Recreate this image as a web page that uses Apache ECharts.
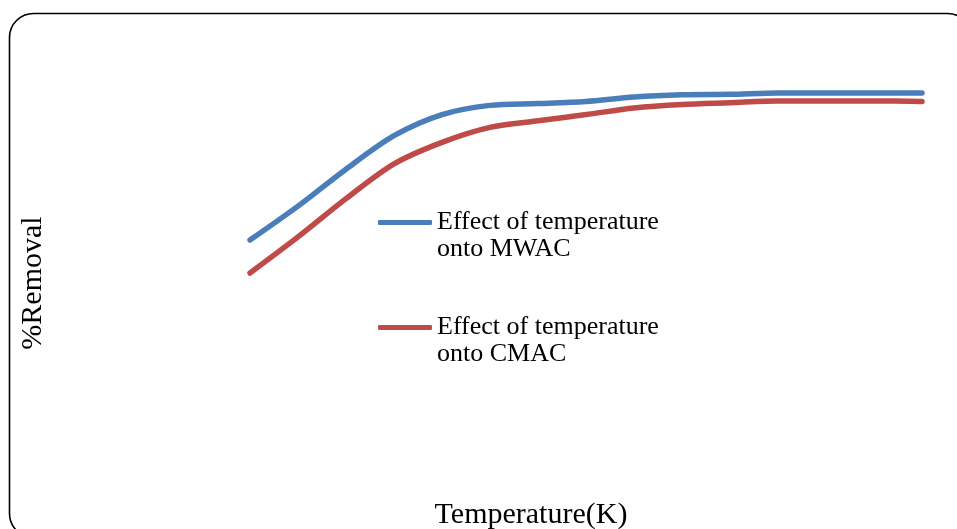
<!DOCTYPE html>
<html>
<head>
<meta charset="utf-8">
<script src="https://cdn.jsdelivr.net/npm/echarts@6/dist/echarts.min.js"></script>
<style>
  html, body { margin: 0; padding: 0; background: #fff; }
  #chart { width: 957px; height: 529px; }
</style>
</head>
<body>
<div id="chart"></div>
<script>
// Temperature points (K) and % removal for each adsorbent
const temperatures = [293, 295.5, 298, 300.5, 303, 305.5, 308, 310.5, 313, 315.5, 318, 320.5, 323, 325.5, 328];
const removalMWAC = [57.5, 65.2, 73.6, 81.2, 86.0, 88.1, 88.5, 89.0, 90.0, 90.5, 90.6, 90.9, 90.9, 90.9, 90.9];
const removalCMAC = [50.0, 58.2, 66.9, 74.8, 79.7, 83.1, 84.6, 86.0, 87.5, 88.3, 88.7, 89.1, 89.1, 89.1, 89.0];
const seriesNames = ['Effect of temperature\nonto MWAC', 'Effect of temperature\nonto CMAC'];

const serif = '"Liberation Serif", "Times New Roman", serif';
const chart = echarts.init(document.getElementById('chart'));

const pairs = (xs, ys) => xs.map((x, i) => [x, ys[i]]);

chart.setOption({
  animation: false,
  backgroundColor: '#fff',
  grid: { left: 250, top: 53, width: 672, height: 440 },
  xAxis: {
    type: 'value', min: 293, max: 328,
    show: false
  },
  yAxis: {
    type: 'value', min: 0, max: 100,
    show: false
  },
  legend: {
    orient: 'vertical',
    left: 378, top: 182,
    padding: 0,
    itemGap: 24,
    itemWidth: 54, itemHeight: 5,
    icon: 'roundRect',
    // blank first line keeps the icon level with the first text line
    formatter: name => ' \n' + name,
    textStyle: { fontFamily: serif, fontSize: 26, color: '#000', lineHeight: 27 },
    data: seriesNames
  },
  graphic: [
    {
      type: 'rect', silent: true,
      shape: { x: 9.5, y: 13.5, width: 962, height: 524, r: 24 },
      style: { fill: 'none', stroke: '#000', lineWidth: 1.6 }
    },
    {
      type: 'text', silent: true,
      x: 33, y: 283, rotation: Math.PI / 2,
      style: { text: '%Removal', font: '30px ' + serif, fill: '#000', align: 'center', verticalAlign: 'middle' }
    },
    {
      type: 'text', silent: true,
      x: 531, y: 515,
      style: { text: 'Temperature(K)', font: '30px ' + serif, fill: '#000', align: 'center', verticalAlign: 'middle' }
    }
  ],
  series: [
    {
      name: seriesNames[0], type: 'line', smooth: 0.3,
      showSymbol: false, symbol: 'none',
      data: pairs(temperatures, removalMWAC),
      lineStyle: { color: '#4A7EBB', width: 5.5, cap: 'round' },
      itemStyle: { color: '#4A7EBB' }
    },
    {
      name: seriesNames[1], type: 'line', smooth: 0.3,
      showSymbol: false, symbol: 'none',
      data: pairs(temperatures, removalCMAC),
      lineStyle: { color: '#BE4B48', width: 5.5, cap: 'round' },
      itemStyle: { color: '#BE4B48' }
    }
  ]
});
</script>
</body>
</html>
